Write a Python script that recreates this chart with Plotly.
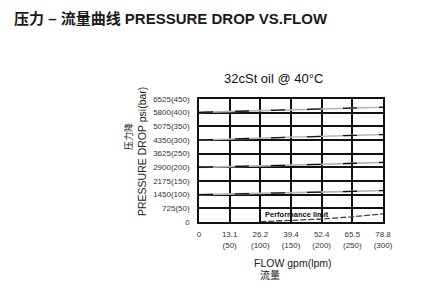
import plotly.graph_objects as go

# ---------------- data ----------------
flow_lpm = [0, 50, 100, 150, 200, 250, 300]
x_tick_vals = [0, 50, 100, 150, 200, 250, 300]
x_tick_text = ["0", "13.1<br>(50)", "26.2<br>(100)", "39.4<br>(150)",
               "52.4<br>(200)", "65.5<br>(250)", "78.8<br>(300)"]
y_tick_vals = [0, 50, 100, 150, 200, 250, 300, 350, 400, 450]
y_tick_text = ["0", "725(50)", "1450(100)", "2175(150)", "2900(200)",
               "3625(250)", "4350(300)", "5075(350)", "5800(400)", "6525(450)"]

curve_400 = [401, 404, 407, 411, 414, 417, 420]
curve_300 = [300, 303, 306, 310, 313, 316, 320]
curve_200 = [200, 202, 205, 208, 211, 214, 218]
curve_100 = [100, 102, 104, 107, 109, 112, 115]
curves = [curve_400, curve_300, curve_200, curve_100]

limit_flow = [100, 150, 200, 250, 300]
limit_bar = [1, 5, 11, 19, 30]

FONT = "Liberation Sans, Arial, Noto Sans CJK SC, sans-serif"

# plot area in pixels
L, R, T, B = 199, 383, 99, 222
W, H = 440, 308


def px(xp):
    return (xp - L) / (R - L)


def py(yp):
    return (B - yp) / (B - T)


fig = go.Figure()

for c in curves:
    fig.add_trace(go.Scatter(x=flow_lpm, y=c, mode="lines",
                             line=dict(color="#b5b5b5", width=1.6),
                             hoverinfo="skip", showlegend=False))
    fig.add_trace(go.Scatter(x=flow_lpm, y=c, mode="lines",
                             line=dict(color="#111111", width=1.3, dash="14px,22px"),
                             hoverinfo="skip", showlegend=False))

fig.add_trace(go.Scatter(x=limit_flow, y=limit_bar, mode="lines",
                         line=dict(color="#444444", width=1.3, dash="6px,2px"),
                         hoverinfo="skip", showlegend=False))

annotations = [
    dict(text="32cSt oil @ 40°C", x=px(273.5), y=py(78), xref="paper", yref="paper",
         showarrow=False, font=dict(size=13, color="#111", family=FONT),
         xanchor="center", yanchor="middle"),
    dict(text="<b>Performance limit</b>", x=104, y=29, xref="x", yref="y",
         showarrow=False, font=dict(size=7.5, color="#111", family=FONT),
         xanchor="left", yanchor="middle"),
    dict(text="压力降", x=px(128), y=py(137), xref="paper", yref="paper",
         showarrow=False, textangle=-90, font=dict(size=9, color="#222", family=FONT),
         xanchor="center", yanchor="middle"),
    dict(text="PRESSURE DROP psi(bar)", x=px(142), y=py(152), xref="paper", yref="paper",
         showarrow=False, textangle=-90, font=dict(size=10.5, color="#222", family=FONT),
         xanchor="center", yanchor="middle"),
    dict(text="FLOW gpm(lpm)", x=px(293), y=py(263), xref="paper", yref="paper",
         showarrow=False, font=dict(size=10.5, color="#222", family=FONT),
         xanchor="center", yanchor="middle"),
    dict(text="流量", x=px(270), y=py(275), xref="paper", yref="paper",
         showarrow=False, font=dict(size=10, color="#222", family=FONT),
         xanchor="center", yanchor="middle"),
]

fig.update_layout(
    width=W, height=H,
    margin=dict(l=L, r=W - R, t=T, b=H - B, pad=0),
    paper_bgcolor="white", plot_bgcolor="white",
    font=dict(family=FONT, color="#333"),
    title=dict(text="<b>压力 – 流量曲线 PRESSURE DROP VS.FLOW</b>",
               x=14 / W, xanchor="left", xref="container",
               y=1 - 19 / H, yanchor="middle", yref="container",
               font=dict(size=15, color="#1a1a1a", family=FONT)),
    annotations=annotations,
    showlegend=False,
)

fig.update_xaxes(range=[0, 300], tickvals=x_tick_vals, ticktext=x_tick_text,
                 showgrid=True, gridcolor="#111", gridwidth=1.5,
                 showline=True, linecolor="#111", linewidth=1.5, mirror=True,
                 ticks="", ticklabelstandoff=4, zeroline=False,
                 tickfont=dict(size=8, color="#333", family=FONT), fixedrange=True)
fig.update_yaxes(range=[0, 450], tickvals=y_tick_vals, ticktext=y_tick_text,
                 showgrid=True, gridcolor="#111", gridwidth=1.5,
                 showline=True, linecolor="#111", linewidth=1.5, mirror=True,
                 ticks="", ticklabelstandoff=6, zeroline=False,
                 tickfont=dict(size=8, color="#333", family=FONT), fixedrange=True)

fig.write_html("out.html", config={"displayModeBar": False})
